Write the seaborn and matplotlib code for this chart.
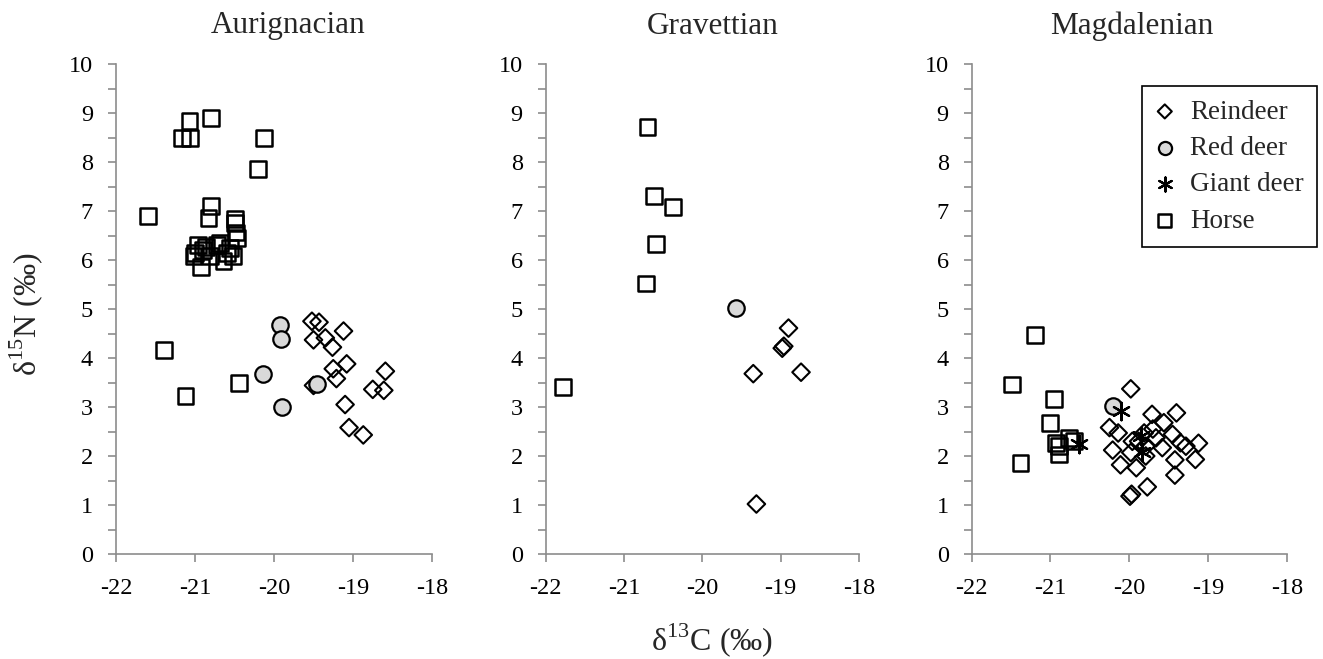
# -*- coding: utf-8 -*-
# stable isotope scatter panels: d13C vs d15N by period and species

import pandas as pd
import matplotlib.pyplot as plt
import seaborn as sns

# ---- data ----
periods = ['Aurignacian', 'Gravettian', 'Magdalenian']
species = ['Reindeer', 'Red deer', 'Giant deer', 'Horse']

# Aurignacian
aur_reindeer_c = [-19.52, -19.43, -19.12, -19.50, -19.35, -19.26, -19.25, -19.08, -19.21, -19.50,
                  -18.59, -18.75, -18.61, -19.10, -19.05, -18.87]
aur_reindeer_n = [4.75, 4.73, 4.55, 4.37, 4.41, 4.22, 3.78, 3.88, 3.58, 3.44,
                  3.73, 3.36, 3.34, 3.05, 2.58, 2.43]
aur_reddeer_c = [-19.92, -19.91, -20.14, -19.90, -19.45]
aur_reddeer_n = [4.67, 4.39, 3.68, 2.99, 3.46]
aur_horse_c = [-21.07, -20.80, -21.16, -21.06, -20.13, -20.20, -21.59, -20.80, -20.83, -20.49,
               -20.49, -20.47, -21.00, -20.96, -20.92, -21.02, -20.81, -20.68, -20.56, -20.52,
               -20.48, -20.64, -20.86, -20.90, -20.72, -20.60, -21.39, -21.12, -20.44]
aur_horse_n = [8.83, 8.90, 8.49, 8.49, 8.49, 7.85, 6.90, 7.10, 6.86, 6.84,
               6.75, 6.45, 6.15, 6.30, 5.85, 6.08, 6.08, 6.35, 6.25, 6.08,
               6.56, 5.98, 6.27, 6.20, 6.30, 6.15, 4.17, 3.23, 3.49]

# Gravettian
gra_reindeer_c = [-18.90, -18.96, -18.98, -19.35, -18.74, -19.31]
gra_reindeer_n = [4.61, 4.24, 4.20, 3.68, 3.71, 1.02]
gra_reddeer_c = [-19.57]
gra_reddeer_n = [5.03]
gra_horse_c = [-20.70, -20.62, -20.38, -20.59, -20.72, -21.78]
gra_horse_n = [8.72, 7.30, 7.08, 6.32, 5.52, 3.40]

# Magdalenian
mag_reindeer_c = [-19.98, -20.25, -20.14, -20.21, -20.11, -19.96, -19.98, -19.91, -19.71, -19.56,
                  -19.40, -19.81, -19.79, -19.79, -19.66, -19.58, -19.45, -19.35, -19.28, -19.12,
                  -19.42, -19.16, -19.42, -19.97, -19.77, -19.99, -19.70, -19.88]
mag_reindeer_n = [3.37, 2.58, 2.47, 2.12, 1.82, 2.30, 2.07, 1.76, 2.85, 2.68,
                  2.88, 2.47, 2.20, 2.00, 2.37, 2.17, 2.44, 2.27, 2.20, 2.26,
                  1.92, 1.93, 1.61, 1.22, 1.37, 1.18, 2.55, 2.30]
mag_reddeer_c = [-20.21]
mag_reddeer_n = [3.03]
mag_giant_c = [-20.11, -20.64, -19.85, -19.84]
mag_giant_n = [2.91, 2.24, 2.40, 2.08]
mag_horse_c = [-21.20, -21.49, -20.95, -21.01, -21.38, -20.89, -20.89, -20.76, -20.70, -20.93]
mag_horse_n = [4.47, 3.46, 3.17, 2.68, 1.86, 2.20, 2.03, 2.37, 2.30, 2.27]

# build one long table
rows = []
def add(period, sp, cs, ns):
    for c, n in zip(cs, ns):
        rows.append({'period': period, 'species': sp, 'd13C': c, 'd15N': n})

add('Aurignacian', 'Reindeer', aur_reindeer_c, aur_reindeer_n)
add('Aurignacian', 'Red deer', aur_reddeer_c, aur_reddeer_n)
add('Aurignacian', 'Horse', aur_horse_c, aur_horse_n)
add('Gravettian', 'Reindeer', gra_reindeer_c, gra_reindeer_n)
add('Gravettian', 'Red deer', gra_reddeer_c, gra_reddeer_n)
add('Gravettian', 'Horse', gra_horse_c, gra_horse_n)
add('Magdalenian', 'Reindeer', mag_reindeer_c, mag_reindeer_n)
add('Magdalenian', 'Red deer', mag_reddeer_c, mag_reddeer_n)
add('Magdalenian', 'Giant deer', mag_giant_c, mag_giant_n)
add('Magdalenian', 'Horse', mag_horse_c, mag_horse_n)
df = pd.DataFrame(rows)

# ---- styling ----
sns.set_style('ticks')
plt.rcParams['font.family'] = ['Liberation Serif', 'DejaVu Serif']
plt.rcParams['mathtext.fontset'] = 'custom'
plt.rcParams['mathtext.rm'] = 'Liberation Serif'
plt.rcParams['axes.unicode_minus'] = False

marker_kws = {
    'Reindeer':   dict(marker='D', s=80, color='black', facecolor='none', edgecolor='black', linewidth=1.5),
    'Red deer':   dict(marker='o', s=140, color='#d9d9d9', edgecolor='black', linewidth=1.6),
    'Giant deer': dict(marker=(6, 2, 0), s=160, color='black', linewidth=1.6),
    'Horse':      dict(marker='s', s=130, color='black', facecolor='none', edgecolor='black', linewidth=1.8),
}

fig = plt.figure(figsize=(13.23, 6.59), dpi=100)
W, H = 1323, 659
ax_lefts = [116, 545.7, 971.7]
ax_widths = [316, 313.3, 315]
ax_top, ax_bottom = 64, 554
title_x = [288, 713, 1132]
grey = '#8c8c8c'

axes = []
for i, period in enumerate(periods):
    ax = fig.add_axes([ax_lefts[i] / W, 1 - ax_bottom / H, ax_widths[i] / W, (ax_bottom - ax_top) / H])
    sub = df[df['period'] == period]
    for sp in species:
        d = sub[sub['species'] == sp]
        if len(d) == 0:
            continue
        sns.scatterplot(data=d, x='d13C', y='d15N', ax=ax, label=sp, legend=False,
                        clip_on=False, **marker_kws[sp])
    ax.set_xlim(-22, -18)
    ax.set_ylim(0, 10)
    ax.set_xticks([-22, -21, -20, -19, -18])
    ax.set_yticks(range(0, 11))
    ax.set_yticks([k + 0.5 for k in range(10)], minor=True)
    ax.set_xlabel('')
    ax.set_ylabel('')
    sns.despine(ax=ax)
    for s in ['left', 'bottom']:
        ax.spines[s].set_color(grey)
        ax.spines[s].set_linewidth(1.2)
    ax.tick_params(axis='both', which='both', colors=grey, labelcolor='black', width=1.2)
    ax.tick_params(axis='x', length=6, labelsize=17.5, pad=11)
    ax.tick_params(axis='y', which='both', length=5.5, labelsize=17.5, pad=11)
    fig.text(title_x[i] / W, 1 - 26 / H, period, ha='center', va='center', fontsize=22.5)
    axes.append(ax)

# axis labels shared across panels
fig.text(712 / W, 1 - 640 / H, r'δ$^{\mathregular{13}}$C (‰)', ha='center', va='center', fontsize=23)
fig.text(26 / W, 1 - 314 / H, r'δ$^{\mathregular{15}}$N (‰)', ha='center', va='center',
         rotation=90, fontsize=23)

# legend in last panel
leg = axes[2].legend(loc='upper right', bbox_to_anchor=(1317 / W, 1 - 86 / H),
                     bbox_transform=fig.transFigure, borderaxespad=0, fontsize=19.5,
                     frameon=True, fancybox=False, edgecolor='black', framealpha=1,
                     handlelength=0.65, handletextpad=0.6, borderpad=0.5,
                     labelspacing=0.42, markerscale=0.8)
leg.get_frame().set_linewidth(1.2)

fig.savefig('out.png', dpi=100)
